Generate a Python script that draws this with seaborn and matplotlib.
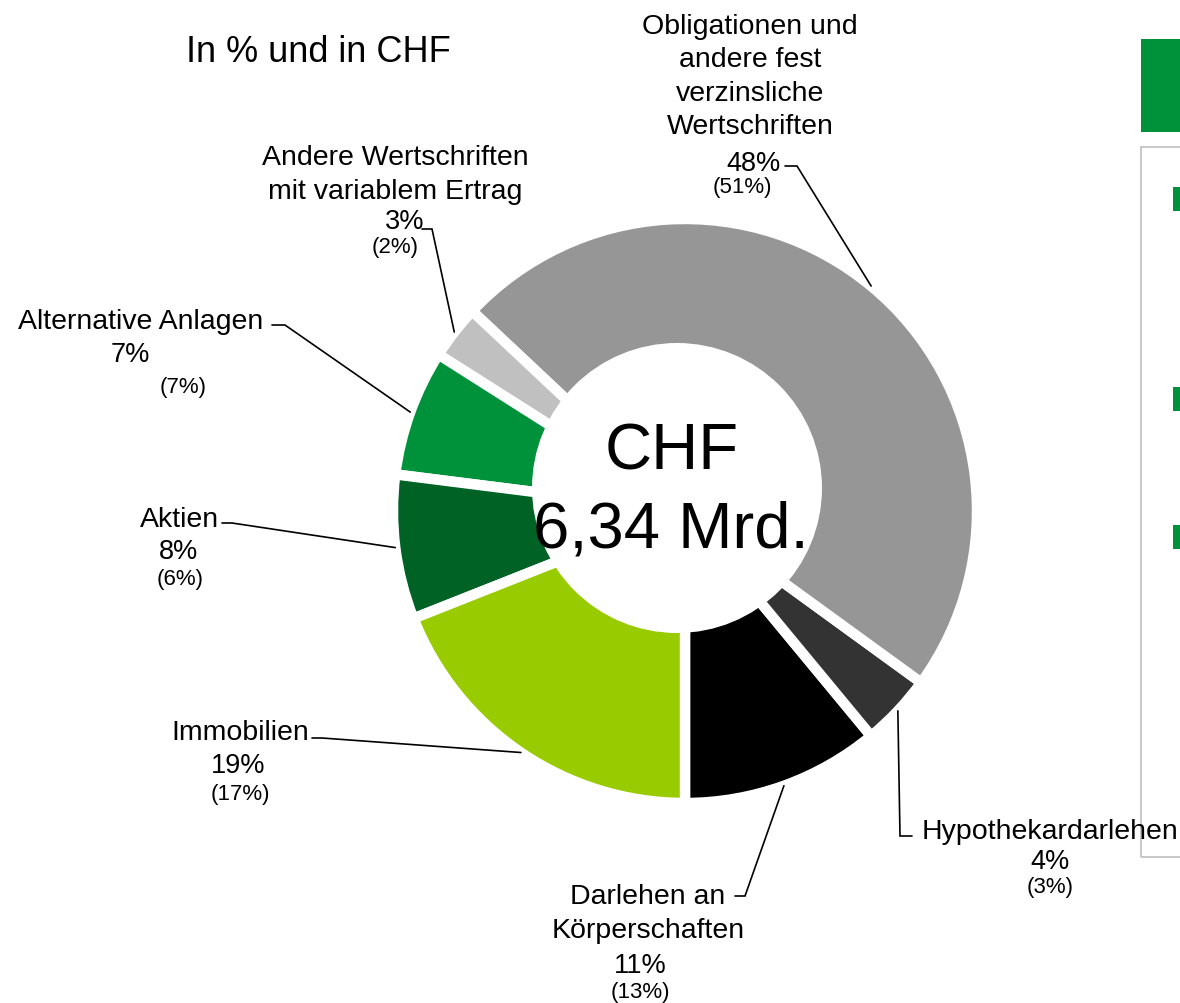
import numpy as np
import matplotlib.pyplot as plt
import matplotlib.patches as mpatches
import seaborn as sns

# asset allocation, current year share and (previous year) in %
categories = ["Darlehen an\nKörperschaften", "Hypothekardarlehen",
              "Obligationen und\nandere fest\nverzinsliche\nWertschriften",
              "Andere Wertschriften\nmit variablem Ertrag", "Alternative Anlagen",
              "Aktien", "Immobilien"]
shares = [11, 4, 48, 3, 7, 8, 19]
shares_prev = [13, 3, 51, 2, 7, 6, 17]
colors = ["#000000", "#333333", "#969696", "#C0C0C0", "#00923A", "#006225", "#99CC00"]
title = "In % und in CHF"
total_lines = ["CHF", "6,34 Mrd."]

W, H = 1180, 1004

sns.set_theme(style="white")
plt.rcParams['font.family'] = ['Liberation Sans', 'DejaVu Sans']
plt.rcParams['text.color'] = 'black'


def px(x, y):
    # picture pixels (top-left origin) -> axes coords
    return x, H - y


# label placement: name center, pct center, prev center, elbow start/end
layout = [
    dict(name=(648, 914), pct=(640, 966), prev=(640, 993), elbow=[(735, 897), (745, 897)]),
    dict(name=(1050, 832), pct=(1050, 862), prev=(1050, 888), elbow=[(912, 837), (900, 837)]),
    dict(name=(750, 77), pct=(753, 164), prev=(742, 188), elbow=[(785, 167), (797, 167)]),
    dict(name=(395, 175), pct=(405, 222), prev=(395, 248), elbow=[(422, 230), (432, 230)]),
    dict(name=(141, 322), pct=(130, 355), prev=(183, 388), elbow=[(272, 326), (285, 326)]),
    dict(name=(179, 520), pct=(178, 552), prev=(180, 580), elbow=[(222, 524), (232, 524)]),
    dict(name=(240, 733), pct=(238, 766), prev=(240, 795), elbow=[(312, 739), (322, 739)]),
]

fig = plt.figure(figsize=(W / 100, H / 100), dpi=100)
ax = fig.add_axes([0, 0, 1, 1])

center = px(685, 512)
radius = 292
wedges, _ = ax.pie(shares, colors=colors, startangle=270, counterclock=True,
                   center=center, radius=radius,
                   wedgeprops=dict(edgecolor="white", linewidth=7.5))

# white hole with the total
ax.add_patch(mpatches.Circle(px(677, 489), 145, facecolor="white", edgecolor="none", zorder=5))
ax.text(*px(672, 452), total_lines[0], fontsize=47, ha="center", va="center", zorder=6)
ax.text(*px(671, 531), total_lines[1], fontsize=47, ha="center", va="center", zorder=6)

ax.text(*px(318, 52), title, fontsize=26, ha="center", va="center")

for w, name, s, sp, lay in zip(wedges, categories, shares, shares_prev, layout):
    mid = np.deg2rad((w.theta1 + w.theta2) / 2)
    tip = (center[0] + radius * np.cos(mid), center[1] + radius * np.sin(mid))
    p0 = px(*lay["elbow"][0])
    p1 = px(*lay["elbow"][1])
    ax.plot([p0[0], p1[0], tip[0]], [p0[1], p1[1], tip[1]], color="black", lw=1.2,
            solid_joinstyle="miter", zorder=4)
    ax.text(*px(*lay["name"]), name, fontsize=20.5, ha="center", va="center", linespacing=1.38)
    ax.text(*px(*lay["pct"]), f"{s}%", fontsize=19.5, ha="center", va="center")
    ax.text(*px(*lay["prev"]), f"({sp}%)", fontsize=16, ha="center", va="center")

# cut-off legend panel on the right
ax.add_patch(mpatches.Rectangle(px(1141, 133), 60, 93, facecolor="#00923A", edgecolor="none"))
ax.add_patch(mpatches.Rectangle(px(1141, 858), 60, 710, facecolor="none",
                                edgecolor="#BFBFBF", lw=1.2))
for y0 in [188, 388, 526]:
    ax.add_patch(mpatches.Rectangle(px(1173, y0 + 24), 12, 24, facecolor="#00923A",
                                    edgecolor="none"))

ax.set_xlim(0, W)
ax.set_ylim(0, H)
ax.set_aspect("equal")
ax.axis("off")
fig.savefig("out.png", dpi=100)
